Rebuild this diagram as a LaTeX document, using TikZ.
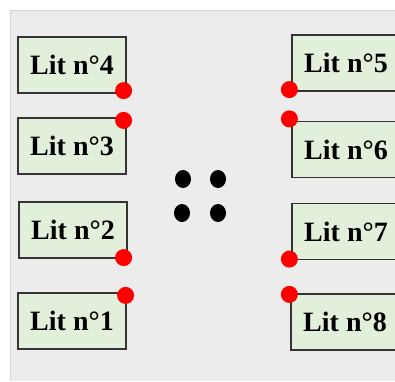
\documentclass[tikz,border=0pt]{standalone}
\usepackage{fontspec}
\setmainfont{Liberation Serif}
\usepackage{tikz}
\usetikzlibrary{positioning}
\definecolor{panelgray}{HTML}{ECECEC}
\definecolor{panelrule}{HTML}{D4D4D4}
\definecolor{litgreen}{HTML}{E2EFDA}
\tikzset{lit/.style = {draw = black!80, line width = 1.2pt, fill = litgreen, minimum width = 108pt, minimum height = 56pt, inner sep = 0, font = \fontsize{28}{30}\selectfont\bfseries}}
\tikzset{plug/.style = {fill = red, circle, inner sep = 0, minimum size = 17pt}}

\begin{document}
\begin{tikzpicture}[x = 1pt, y = -1pt]
    \clip (0, 0) rectangle (395, 381);
    \fill[panelgray] (10, 10) rectangle (395, 381);
    \draw[panelrule, line width = 1.5pt] (10.5, 381) -- (10.5, 10.5) -- (395, 10.5);

    \node[lit] (b4) at (72, 65) {Lit n°4};
    \node[lit] (b3) at (72, 146) {Lit n°3};
    \node[lit] (b2) at (73, 230) {Lit n°2};
    \node[lit] (b1) at (72, 321) {Lit n°1};

    \node[lit] (b5) at (346, 63) {Lit n°5};
    \node[lit] (b6) at (346, 149.5) {Lit n°6};
    \node[lit] (b7) at (346, 231.5) {Lit n°7};
    \node[lit] (b8) at (345, 322) {Lit n°8};

    \node[plug] (p4) at ([shift = {(-3, -3)}]b4.south east) {};
    \node[plug] (p3) at ([shift = {(-3, 3)}]b3.north east) {};
    \node[plug] (p2) at ([shift = {(-4, -1)}]b2.south east) {};
    \node[plug] (p1) at ([shift = {(-1, 3)}]b1.north east) {};

    \node[plug] (p5) at ([shift = {(-2, -2)}]b5.south west) {};
    \node[plug] (p6) at ([shift = {(-2, -2)}]b6.north west) {};
    \node[plug] (p7) at ([shift = {(-2, -1)}]b7.south west) {};
    \node[plug] (p8) at ([shift = {(-1, 1)}]b8.north west) {};

    \fill (183, 179) ellipse [x radius = 8, y radius = 9];
    \fill (218, 179) ellipse [x radius = 8, y radius = 9];
    \fill (182, 213) ellipse [x radius = 8, y radius = 9];
    \fill (218, 213) ellipse [x radius = 8, y radius = 9];
\end{tikzpicture}
\end{document}
